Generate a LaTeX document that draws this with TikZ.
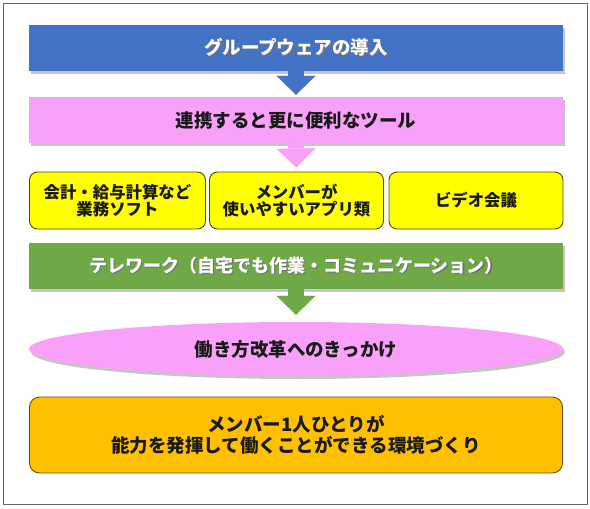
\documentclass[tikz,border=0pt]{standalone}
\usepackage{fontspec}
\setmainfont{Noto Sans CJK JP}
\usepackage{xcolor}
\definecolor{introBlue}{HTML}{4472C4}
\definecolor{linkPink}{HTML}{F9A0F9}
\definecolor{toolYellow}{HTML}{FFFF00}
\definecolor{toolBorder}{HTML}{4D4D00}
\definecolor{teleGreen}{HTML}{6EA847}
\definecolor{goalOrange}{HTML}{FFC000}
\definecolor{goalBorder}{HTML}{6B4F00}
\definecolor{textDark}{HTML}{1A1A1A}
\definecolor{frameGray}{HTML}{666666}
\usetikzlibrary{shapes.geometric,arrows.meta,shadows}
% white text with a small dark shadow
\newcommand{\shadowed}[1]{\makebox[0pt][l]{\hspace{1.2pt}\raisebox{-1.2pt}{\color{black!55}#1}}#1}
\tikzset{
    band/.style={
        rectangle,
        minimum width=534pt,
        minimum height=46pt,
        align=center,
        inner sep=0pt,
        drop shadow={shadow xshift=2pt, shadow yshift=-3pt, fill=black!45, opacity=0.5},
        font=\bfseries\fontsize{18.5}{21}\selectfont
    },
    toolbox/.style={
        draw=toolBorder,
        fill=toolYellow,
        rectangle,
        rounded corners=8pt,
        align=center,
        minimum height=57pt,
        inner sep=0pt,
        line width=0.9pt,
        text=textDark,
        font=\bfseries\fontsize{16.4}{17.5}\selectfont
    },
    flowarrow/.style={
        line width=16pt,
        -{Triangle[width=39pt,length=19pt,line width=0.01pt]}
    }
}

\begin{document}
\begin{tikzpicture}[x=1pt,y=-1pt]
    \useasboundingbox (0,0) rectangle (590,509);
    % outer frame
    \draw[frameGray, line width=0.8pt] (3,3) rectangle (587,504);

    % rows
    \node[band, fill=introBlue, text=white] (intro) at (296,48)
        {\shadowed{グループウェアの導入}};
    \node[band, fill=linkPink, text=textDark] (linked) at (296,120) {連携すると更に便利なツール};

    \node[toolbox, minimum width=176pt] (accounting) at (117.5,200.5) {会計・給与計算など\\業務ソフト};
    \node[toolbox, minimum width=174pt] (apps) at (296.5,200.5) {メンバーが\\使いやすいアプリ類};
    \node[toolbox, minimum width=174pt] (video) at (476,200.5) {ビデオ会議};

    \node[band, fill=teleGreen, text=white,
        font=\bfseries\fontsize{18}{21}\selectfont] (telework) at (296,266)
        {\shadowed{テレワーク（自宅でも作業・コミュニケーション）}};

    \node[ellipse, fill=linkPink, minimum width=534pt, minimum height=54pt,
        inner sep=0pt, text=textDark,
        drop shadow={shadow xshift=2pt, shadow yshift=-3pt, fill=black!45, opacity=0.5},
        font=\bfseries\fontsize{18.5}{21}\selectfont] (trigger) at (296,349)
        {働き方改革へのきっかけ};

    \node[rectangle, rounded corners=10pt, draw=goalBorder, fill=goalOrange,
        line width=0.9pt, minimum width=533pt, minimum height=76pt,
        inner sep=0pt, align=center, text=textDark,
        font=\bfseries\fontsize{18.5}{21}\selectfont] (goal) at (296,435)
        {メンバー1人ひとりが\\能力を発揮して働くことができる環境づくり};

    % block arrows
    \draw[flowarrow, introBlue, shorten >=2pt] (intro.south) -- (linked.north);
    \draw[flowarrow, linkPink, shorten >=4pt] (linked.south) -- (apps.north);
    \draw[flowarrow, teleGreen, shorten >=7pt] (telework.south) -- (trigger.north);
\end{tikzpicture}
\end{document}
